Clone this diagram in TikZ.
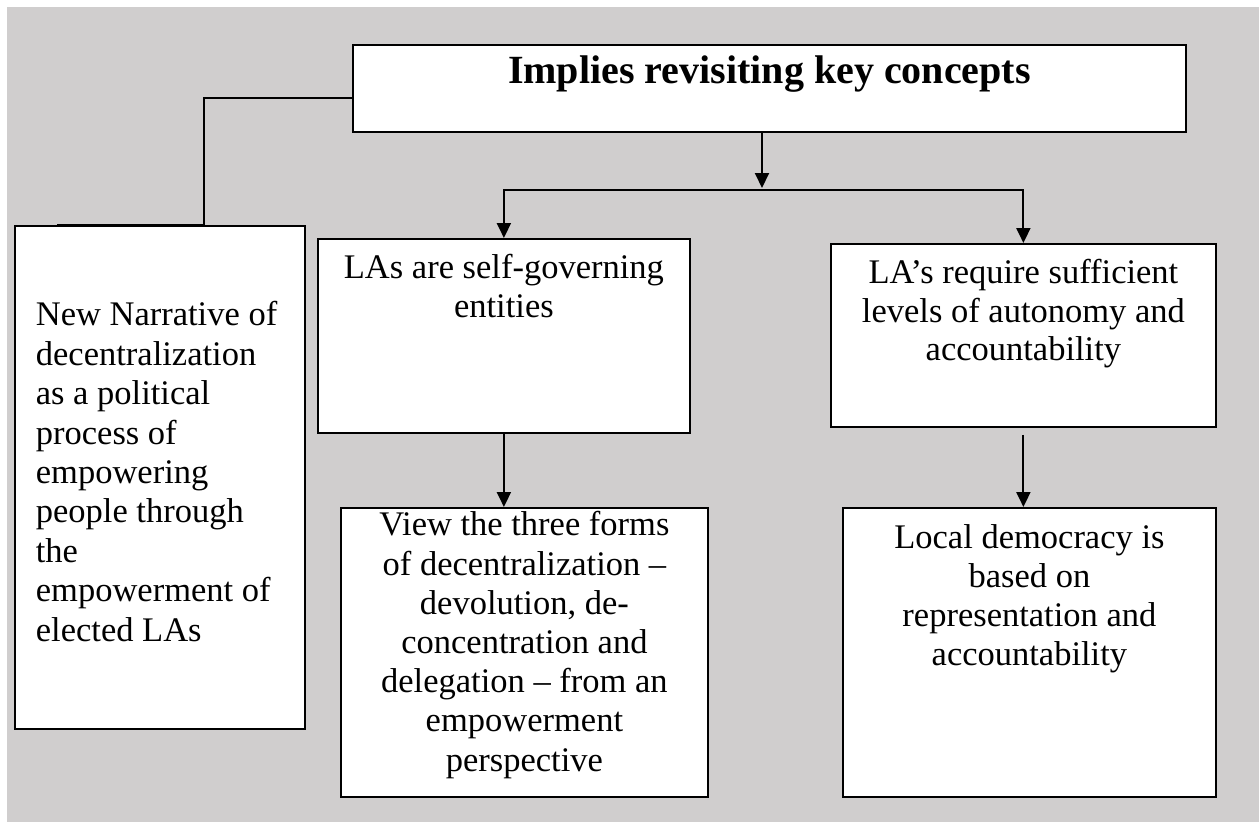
\documentclass[tikz,border=0pt]{standalone}
\usepackage{fontspec}
\setmainfont{Liberation Serif}
\usetikzlibrary{arrows.meta,positioning,calc}

\definecolor{bggray}{HTML}{D0CECE}
\newcommand{\boxtxt}[5]{\parbox[t][#2][t]{#1}{#4\rule{0pt}{#3}#5}}

\begin{document}
\begin{tikzpicture}[
                    x=1pt, y=-1pt,
                    panel/.style={draw, line width=1.8pt, fill=white, inner sep=0pt, anchor=north west},
                    arr/.style={line width=2pt, -{Triangle[length=15pt,width=14pt]}},
                    link/.style={line width=1.8pt}
                ]
                    \useasboundingbox (0,0) rectangle (1259,822);
                    \fill[white] (0,0) rectangle (1259,822);
                    \fill[bggray] (7,7) rectangle (1259,822);

                    \node[panel] (top) at (352,44) {\boxtxt{833pt}{87pt}{39pt}{\centering\bfseries\fontsize{40}{44}\selectfont}{Implies revisiting key concepts}};
                    \node[panel] (narr) at (14,225) {\boxtxt{290pt}{503pt}{100pt}{\raggedright\leftskip=21pt\fontsize{34.5}{39.4}\selectfont}{New Narrative of\\ decentralization\\ as a political\\ process of\\ empowering\\ people through\\ the\\ empowerment of\\ elected LAs}};
                    \node[panel] (gov) at (317,238) {\boxtxt{372pt}{194pt}{40pt}{\centering\fontsize{34.5}{39}\selectfont}{LAs are self-governing\\ entities}};
                    \node[panel] (auto) at (830,243) {\boxtxt{385pt}{183pt}{40pt}{\centering\fontsize{34.5}{38.5}\selectfont}{LA’s require sufficient\\ levels of autonomy and\\ accountability}};
                    \node[panel] (forms) at (340,507) {\boxtxt{367pt}{289pt}{28pt}{\centering\fontsize{34.5}{39.2}\selectfont}{View the three forms\\ of decentralization –\\ devolution, de-\\ concentration and\\ delegation – from an\\ empowerment\\ perspective}};
                    \node[panel] (demo) at (842,507) {\boxtxt{373pt}{289pt}{41pt}{\centering\fontsize{34.5}{39}\selectfont}{Local democracy is\\ based on\\ representation and\\ accountability}};

                    \coordinate (split) at (762,190);
                    \draw[link] ([yshift=-9.5pt]top.west) -| ([xshift=190pt]narr.north west) -- ([xshift=43pt]narr.north west);
                    \draw[arr] (split |- top.south) -- ([yshift=2pt]split);
                    \draw[arr] (split) -| (gov.north);
                    \draw[arr] (split) -| (auto.north);
                    \draw[arr] (gov.south) -- (gov.south |- forms.north);
                    \draw[arr] ([yshift=-7pt]auto.south) -- (auto.south |- demo.north);
                \end{tikzpicture}
\end{document}
